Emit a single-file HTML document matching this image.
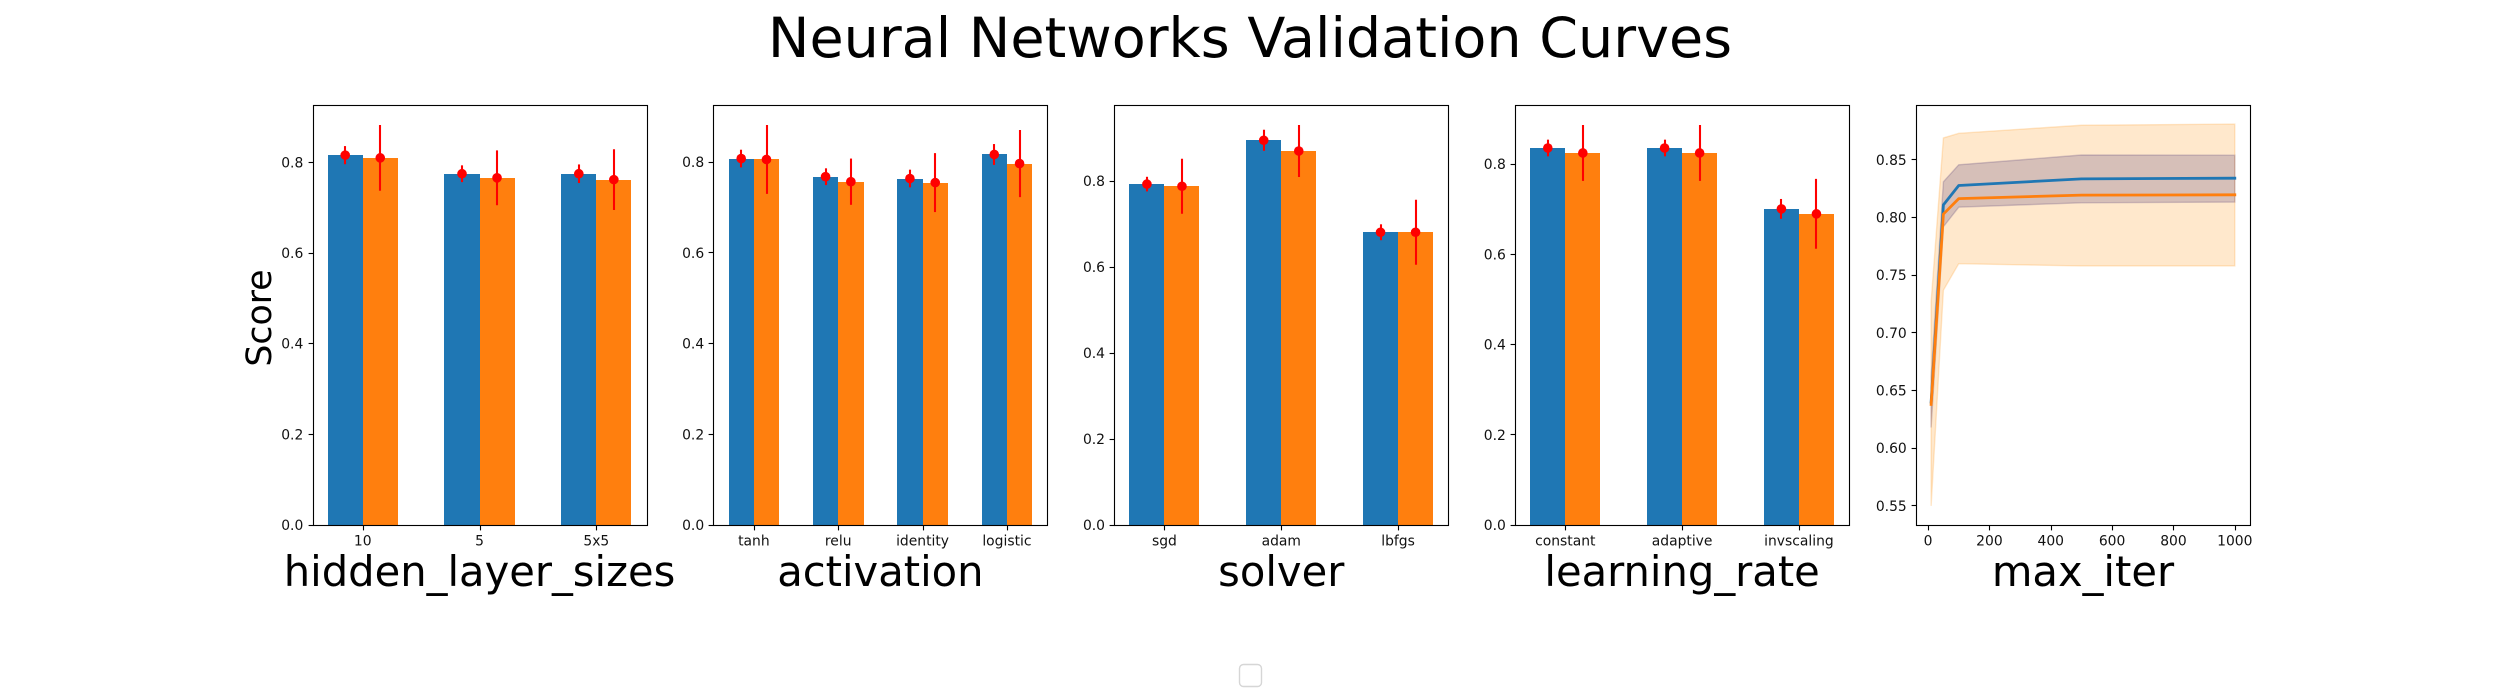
<!DOCTYPE html>
<html lang="en">
<head>
<meta charset="utf-8">
<title>Neural Networks Validation Curves</title>
<style>
html,body{margin:0;padding:0;background:#fff;width:2500px;height:700px;overflow:hidden}
svg{display:block}
text{font-family:"DejaVu Sans","Liberation Sans",sans-serif;fill:#000}
.tick-label{font-size:13.89px;fill:#111}
.axis-label{font-size:41.67px}
</style>
</head>
<body>
<svg id="chart" xmlns="http://www.w3.org/2000/svg" width="2500" height="700" viewBox="0 0 2500 700">
  <rect x="0" y="0" width="2500" height="700" fill="#ffffff"/>
  <text x="1250" y="57" text-anchor="middle" font-size="55.56">Neural Networks Validation Curves</text>
  <text transform="translate(271 318) rotate(-90)" text-anchor="middle" font-size="34.72">Score</text>
  <rect x="1239.5" y="664.5" width="22" height="22" rx="4" ry="4" fill="#ffffff" stroke="#d6d6d6" stroke-width="1.39"/>
</svg>
<script>
const hiddenCategories = ['10', '5', '5x5'];
const hiddenTrain = [0.816, 0.775, 0.775];
const hiddenTrainErr = [0.02, 0.0185, 0.0205];
const hiddenTest = [0.810, 0.766, 0.762];
const hiddenTestErr = [0.0725, 0.0605, 0.067];

const activationCategories = ['tanh', 'relu', 'identity', 'logistic'];
const activationTrain = [0.808, 0.768, 0.764, 0.817];
const activationTrainErr = [0.0195, 0.0185, 0.0195, 0.023];
const activationTest = [0.806, 0.757, 0.755, 0.797];
const activationTestErr = [0.076, 0.051, 0.065, 0.074];

const solverCategories = ['sgd', 'adam', 'lbfgs'];
const solverTrain = [0.793, 0.895, 0.681];
const solverTrainErr = [0.017, 0.0245, 0.0185];
const solverTest = [0.788, 0.870, 0.681];
const solverTestErr = [0.064, 0.0605, 0.0755];

const rateCategories = ['constant', 'adaptive', 'invscaling'];
const rateTrain = [0.836, 0.836, 0.701];
const rateTrainErr = [0.0185, 0.0185, 0.022];
const rateTest = [0.825, 0.825, 0.690];
const rateTestErr = [0.062, 0.062, 0.0775];

const barTicks = [0, 0.2, 0.4, 0.6, 0.8];

const iterValues = [10, 50, 100, 500, 1000];
const iterTrain = [0.640, 0.811, 0.8278, 0.8335, 0.8341];
const iterTrainLow = [0.618, 0.792, 0.809, 0.8128, 0.8134];
const iterTrainHigh = [0.662, 0.831, 0.8457, 0.8542, 0.854];
const iterTest = [0.638, 0.803, 0.8164, 0.8194, 0.8197];
const iterTestLow = [0.55, 0.737, 0.760, 0.758, 0.758];
const iterTestHigh = [0.727, 0.869, 0.873, 0.880, 0.881];
const iterXTicks = [0, 200, 400, 600, 800, 1000];
const iterYTicks = [0.55, 0.60, 0.65, 0.70, 0.75, 0.80, 0.85];

const NS = 'http://www.w3.org/2000/svg';
const svg = document.getElementById('chart');
const BLUE = '#1f77b4';
const ORANGE = '#ff7f0e';
const BAND_BLUE = '#000080';
const BAND_ORANGE = '#ff8c00';
const AX_TOP = 105;
const AX_BOTTOM = 525;
const AX_WIDTH = 1937.5 / 5.8;
const AX_STEP = AX_WIDTH * 1.2;

function make(tag, attrs, parent) {
  const el = document.createElementNS(NS, tag);
  for (const k in attrs) el.setAttribute(k, attrs[k]);
  parent.appendChild(el);
  return el;
}
function snap(v) { return Math.round(v) + 0.5; }

function drawFrame(g, left) {
  const right = left + AX_WIDTH;
  const frame = make('rect', {
    x: snap(left), y: AX_TOP + 0.5,
    width: snap(right) - snap(left), height: AX_BOTTOM - AX_TOP,
    fill: 'none', stroke: '#000', 'stroke-width': 1.11
  }, g);
  
  
}
function drawXTick(g, px, label) {
  const t = snap(px);
  const mark = make('line', {x1: t, x2: t, y1: AX_BOTTOM + 0.5, y2: AX_BOTTOM + 5.4, stroke: '#000', 'stroke-width': 1.11}, g);
  
  
  const txt = make('text', {x: px, y: AX_BOTTOM + 20.5, 'text-anchor': 'middle', 'class': 'tick-label'}, g);
  txt.textContent = label;
  
  
}
function drawYTick(g, left, py, label) {
  const t = Math.floor(py) + 0.5;
  const l = snap(left);
  const mark = make('line', {x1: l - 4.9, x2: l, y1: t, y2: t, stroke: '#000', 'stroke-width': 1.11}, g);
  
  
  const txt = make('text', {x: left - 9.2, y: py + 5, 'text-anchor': 'end', 'class': 'tick-label'}, g);
  txt.textContent = label;
  
  
}
function drawXLabel(g, left, text) {
  const txt = make('text', {x: left + AX_WIDTH / 2, y: 586, 'text-anchor': 'middle', 'class': 'axis-label'}, g);
  txt.textContent = text;
  
  
}

function drawBarSeries(g, xScale, yScale, cats, values, errs, offset, color) {
  cats.forEach(function (c, i) {
    const x0 = Math.round(xScale(i + offset - 0.15));
    const x1 = Math.round(xScale(i + offset + 0.15));
    const top = Math.round(yScale(values[i]));
    const bar = make('rect', {x: x0, y: top, width: x1 - x0, height: AX_BOTTOM - top, fill: color, 'shape-rendering': 'crispEdges'}, g);
    
    
  });
}
function drawErrorSeries(g, xScale, yScale, cats, values, errs, offset) {
  cats.forEach(function (c, i) {
    const cx = xScale(i + offset);
    const lx = Math.round(cx);
    const line = make('line', {x1: lx, x2: lx, y1: yScale(values[i] + errs[i]), y2: yScale(values[i] - errs[i]), stroke: '#ff0000', 'stroke-width': 2.08}, g);
    
    
    const dot = make('circle', {cx: cx, cy: yScale(values[i]), r: 4.8, fill: '#ff0000'}, g);
    
    
  });
}

function drawBarPanel(index, label, cats, train, trainErr, test, testErr) {
  const left = 312.5 + index * AX_STEP;
  const g = make('g', {}, svg);
  
  
  const n = cats.length;
  const span = (n - 1 + 0.6) * 1.1;
  const xMin = -0.3 - 0.05 * (n - 1 + 0.6);
  const xScale = function (v) { return left + (v - xMin) / span * AX_WIDTH; };
  let top = 0;
  cats.forEach(function (c, i) {
    top = Math.max(top, train[i] + trainErr[i], test[i] + testErr[i]);
  });
  const yMax = top * 1.05;
  const yScale = function (v) { return AX_BOTTOM - v / yMax * (AX_BOTTOM - AX_TOP); };
  drawBarSeries(g, xScale, yScale, cats, train, trainErr, -0.15, BLUE);
  drawBarSeries(g, xScale, yScale, cats, test, testErr, 0.15, ORANGE);
  drawErrorSeries(g, xScale, yScale, cats, train, trainErr, -0.15);
  drawErrorSeries(g, xScale, yScale, cats, test, testErr, 0.15);
  drawFrame(g, left);
  cats.forEach(function (c, i) { drawXTick(g, xScale(i), c); });
  barTicks.forEach(function (t) {
    if (t <= yMax) drawYTick(g, left, yScale(t), t.toFixed(1));
  });
  drawXLabel(g, left, label);
}

function drawLinePanel(index, label) {
  const left = 312.5 + index * AX_STEP;
  const g = make('g', {}, svg);
  
  
  const xLo = Math.min.apply(null, iterValues);
  const xHi = Math.max.apply(null, iterValues);
  const xPad = (xHi - xLo) * 0.05;
  const xScale = function (v) { return left + (v - xLo + xPad) / (xHi - xLo + 2 * xPad) * AX_WIDTH; };
  const all = iterTrainLow.concat(iterTrainHigh, iterTestLow, iterTestHigh, iterTrain, iterTest);
  const yLo = Math.min.apply(null, all);
  const yHi = Math.max.apply(null, all);
  const yPad = (yHi - yLo) * 0.05;
  const yScale = function (v) { return AX_BOTTOM - (v - yLo + yPad) / (yHi - yLo + 2 * yPad) * (AX_BOTTOM - AX_TOP); };
  function bandPoints(low, high) {
    const up = iterValues.map(function (x, i) { return xScale(x) + ',' + yScale(high[i]); });
    const down = iterValues.map(function (x, i) { return xScale(x) + ',' + yScale(low[i]); }).reverse();
    return up.concat(down).join(' ');
  }
  function linePoints(vals) {
    return iterValues.map(function (x, i) { return xScale(x) + ',' + yScale(vals[i]); }).join(' ');
  }
  const bandA = make('polygon', {points: bandPoints(iterTrainLow, iterTrainHigh), fill: BAND_BLUE, 'fill-opacity': 0.2, stroke: BAND_BLUE, 'stroke-opacity': 0.2, 'stroke-width': 1.39}, g);
  
  
  const bandB = make('polygon', {points: bandPoints(iterTestLow, iterTestHigh), fill: BAND_ORANGE, 'fill-opacity': 0.2, stroke: BAND_ORANGE, 'stroke-opacity': 0.2, 'stroke-width': 1.39}, g);
  
  
  const lineA = make('polyline', {points: linePoints(iterTrain), fill: 'none', stroke: BLUE, 'stroke-width': 2.78, 'stroke-linejoin': 'round', 'stroke-linecap': 'square'}, g);
  
  
  const lineB = make('polyline', {points: linePoints(iterTest), fill: 'none', stroke: ORANGE, 'stroke-width': 2.78, 'stroke-linejoin': 'round', 'stroke-linecap': 'square'}, g);
  
  
  drawFrame(g, left);
  iterXTicks.forEach(function (t) { drawXTick(g, xScale(t), String(t)); });
  iterYTicks.forEach(function (t) { drawYTick(g, left, yScale(t), t.toFixed(2)); });
  drawXLabel(g, left, label);
}

drawBarPanel(0, 'hidden_layer_sizes', hiddenCategories, hiddenTrain, hiddenTrainErr, hiddenTest, hiddenTestErr);
drawBarPanel(1, 'activation', activationCategories, activationTrain, activationTrainErr, activationTest, activationTestErr);
drawBarPanel(2, 'solver', solverCategories, solverTrain, solverTrainErr, solverTest, solverTestErr);
drawBarPanel(3, 'learning_rate', rateCategories, rateTrain, rateTrainErr, rateTest, rateTestErr);
drawLinePanel(4, 'max_iter');
</script>
</body>
</html>
